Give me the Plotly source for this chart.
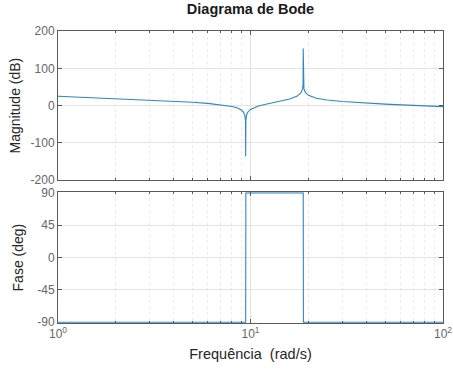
import plotly.graph_objects as go
from plotly.subplots import make_subplots

# Frequency samples (rad/s) and magnitude (dB)
freq_mag = [1, 1.5, 2, 3, 4, 5, 6, 7, 8, 8.5, 9, 9.2, 9.35, 9.42, 9.44, 9.46, 9.55, 9.7,
            10, 11, 12, 14, 16, 17.5, 18.3, 18.65, 18.75, 18.79, 18.83, 18.95, 19.3, 20,
            22, 25, 30, 40, 50, 70, 100]
mag_db = [25.0, 21.4, 18.7, 14.8, 11.7, 8.8, 5.9, 2.5, -2.3, -6.0, -12.6, -17.9, -26.4, -39.8,
          -136, -39.1, -24.5, -17.0, -10.3, -1.1, 3.8, 10.7, 17.6, 25.5, 34.4, 45.6, 56.8,
          153, 56.1, 44.4, 34.5, 27.4, 19.7, 14.9, 10.9, 6.6, 4.0, 0.6, -2.8]

# Phase (deg)
freq_phase = [1, 9.44, 9.46, 18.79, 18.83, 100]
phase_deg = [-90, -90, 90, 90, -90, -90]

x_tickvals = [1, 10, 100]
x_ticktext = ["10<sup>0</sup>", "10<sup>1</sup>", "10<sup>2</sup>"]
mag_ticks = [-200, -100, 0, 100, 200]
mag_ticktext = ["-200", "-100", "0", "100", "200"]
phase_ticks = [-90, -45, 0, 45, 90]
phase_ticktext = ["-90", "-45", "0", "45", "90"]

line_color = "#2f86c4"
axis_color = "#5a5a5a"
label_color = "#666666"
font_family = "Liberation Sans, Arial, sans-serif"

fig = make_subplots(rows=2, cols=1, shared_xaxes=False, vertical_spacing=0.04)
fig.add_trace(go.Scatter(x=freq_mag, y=mag_db, mode="lines",
                         line=dict(color=line_color, width=1.1), showlegend=False), row=1, col=1)
fig.add_trace(go.Scatter(x=freq_phase, y=phase_deg, mode="lines",
                         line=dict(color=line_color, width=1.1), showlegend=False), row=2, col=1)

common_x = dict(type="log", range=[0, 2], tickvals=x_tickvals, ticktext=x_ticktext,
                automargin=False,
                showline=True, linecolor=axis_color, linewidth=1, mirror="ticks",
                ticks="inside", ticklen=4, tickcolor=axis_color,
                showgrid=True, gridcolor="#e3e3e3", gridwidth=1,
                minor=dict(dtick="D1", showgrid=True, gridcolor="#ececec", griddash="dot",
                           ticks="inside", ticklen=2, tickcolor=axis_color),
                zeroline=False, tickfont=dict(size=12, color=label_color, family=font_family))
common_y = dict(showline=True, linecolor=axis_color, linewidth=1, mirror="ticks",
                automargin=False,
                ticks="inside", ticklen=4, tickcolor=axis_color,
                showgrid=True, gridcolor="#e3e3e3", gridwidth=1, zeroline=False,
                tickfont=dict(size=12, color=label_color, family=font_family))

fig.update_layout(
    width=453, height=369,
    margin=dict(l=58, r=10, t=31, b=46),
    paper_bgcolor="white", plot_bgcolor="white",
    font=dict(family=font_family, color="#262626"),
    title=dict(text="<b>Diagrama de Bode</b>", x=0.553, xanchor="center", y=0.99, yanchor="top",
               font=dict(size=14.5, color="#1a1a1a", family=font_family)),
    xaxis=dict(common_x, domain=[0, 1], showticklabels=False),
    xaxis2=dict(common_x, domain=[0, 1],
                title=dict(text="Frequência  (rad/s)", standoff=8,
                           font=dict(size=14.5, color="#262626", family=font_family))),
    yaxis=dict(common_y, domain=[0.489, 1], range=[-200, 200], tickvals=mag_ticks,
               ticktext=mag_ticktext,
               title=dict(text="Magnitude (dB)", standoff=6,
                          font=dict(size=14, color="#262626", family=font_family))),
    yaxis2=dict(common_y, domain=[0, 0.448], range=[-91, 91], tickvals=phase_ticks,
                ticktext=phase_ticktext,
                title=dict(text="Fase (deg)", standoff=10,
                           font=dict(size=14, color="#262626", family=font_family))),
)

fig.write_html("out.html")
